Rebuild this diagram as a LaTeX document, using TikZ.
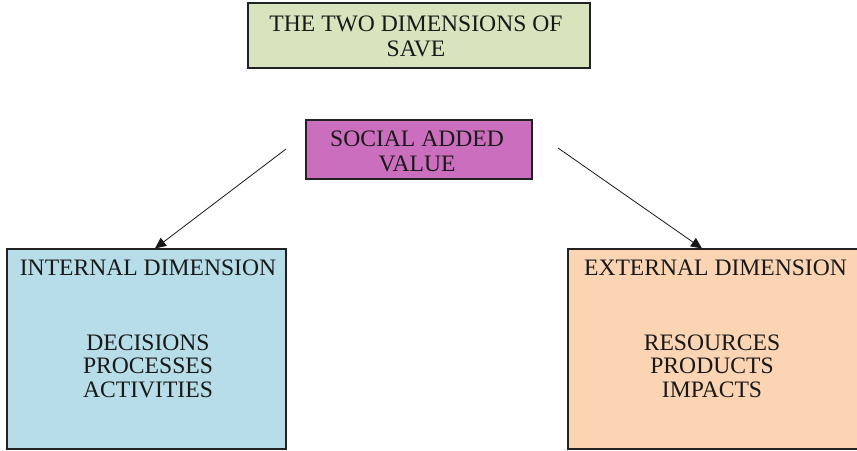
\documentclass[tikz,border=0pt]{standalone}
\usepackage{fontspec}
\setmainfont{Liberation Serif}
\usetikzlibrary{arrows.meta,calc}

\definecolor{titlegreen}{HTML}{D7E4BD}
\definecolor{valuepink}{HTML}{CC6EBE}
\definecolor{intblue}{HTML}{B7DDE8}
\definecolor{extpeach}{HTML}{FBD4B4}
\definecolor{edge}{HTML}{222222}

\tikzset{
  box/.style={draw=edge, line width=1.1pt, inner sep=0pt, minimum width=#1},
  label/.style={font=\fontsize{23.6}{24.8}\selectfont, text=black!90, align=center, inner sep=0pt},
  listlabel/.style={label, font=\fontsize{23.6}{23.5}\selectfont},
  arr/.style={draw=black!90, line width=0.8pt, -{Triangle[length=11pt,width=10pt]}}
}

\begin{document}
\begin{tikzpicture}[x=1pt,y=-1pt]
  \useasboundingbox (0,0) rectangle (857,450);

  % title box
  \node[box=342pt, fill=titlegreen, minimum height=65pt] (title) at (419,35.5) {};
  \node[label] (titletext) at (416,36) {THE TWO DIMENSIONS OF\\SAVE};

  % central concept
  \node[box=226pt, fill=valuepink, minimum height=59pt] (sav) at (419,149.5) {};
  \node[label] (savtext) at (417,151.5) {SOCIAL ADDED\\VALUE};

  % internal dimension
  \node[box=279pt, fill=intblue, minimum height=200pt] (int) at (146.5,349) {};
  \node[label, anchor=base] (inttitle) at (148,275) {INTERNAL DIMENSION};
  \node[listlabel] (intlist) at (148,366) {DECISIONS\\PROCESSES\\ACTIVITIES};

  % external dimension (runs off the right edge)
  \node[box=292pt, fill=extpeach, minimum height=200pt] (ext) at (714,349) {};
  \node[label, anchor=base] (exttitle) at (715.5,275) {EXTERNAL DIMENSION};
  \node[listlabel] (extlist) at (712,366) {RESOURCES\\PRODUCTS\\IMPACTS};

  % connectors
  \coordinate (lstart) at (286,149);
  \coordinate (rstart) at (558,148);
  \draw[arr] (lstart) -- ([xshift=8.5pt]int.north);
  \draw[arr] (rstart) -- ([xshift=-12pt]ext.north);
\end{tikzpicture}
\end{document}
